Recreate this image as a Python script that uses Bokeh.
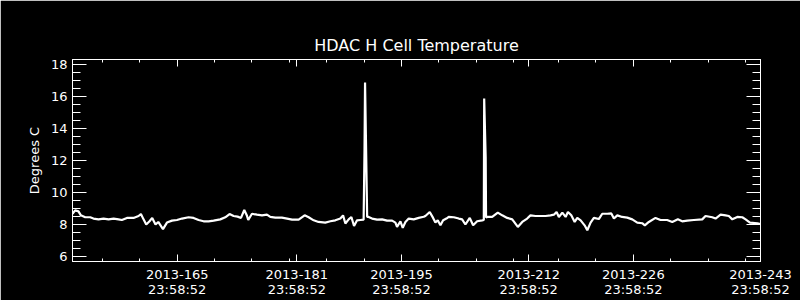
from bokeh.plotting import figure
from bokeh.models import Range1d, LinearAxis, FixedTicker
from bokeh.embed import file_html
from bokeh.resources import INLINE

# x = day of year 2013 (integer N = day N at 23:58:52)
days = [151.0, 151.36, 151.8, 152.12, 152.7, 153.37, 153.8, 154.48, 155.15, 155.82,
        156.5, 157.15, 157.6, 158.28, 159.16, 159.83, 160.15, 160.5, 160.86, 161.3,
        161.66, 162.1, 162.47, 163.1, 163.63, 164.3, 164.97, 165.64, 166.52, 167.19,
        167.86, 168.53, 169.2, 169.87, 170.76, 171.43, 172.0, 172.54, 173.08, 173.53,
        173.97, 174.3, 174.5, 175.0, 175.67, 176.34, 177.0, 177.45, 178.12, 179.0,
        179.7, 180.36, 181.24, 182.04, 182.58, 183.25, 183.9, 184.8, 185.48, 186.15,
        186.82, 187.18, 187.49, 187.93, 188.29, 188.65, 189.05, 189.49, 189.93, 190.05,
        190.12, 190.4, 190.6, 191.06, 191.73, 192.4, 193.07, 193.74, 194.18, 194.4,
        194.85, 195.16, 195.52, 195.96, 196.63, 197.3, 197.97, 198.19, 198.77, 199.22,
        199.53, 199.84, 200.2, 200.56, 201.0, 201.31, 201.98, 202.65, 203.1, 203.54,
        204.12, 204.57, 205.11, 205.78, 206.0, 206.05, 206.25, 206.3, 206.45, 207.12,
        207.87, 208.46, 209.13, 209.8, 210.55, 211.14, 211.8, 212.24, 212.91, 213.58,
        214.25, 214.92, 215.37, 215.73, 216.04, 216.5, 216.94, 217.25, 217.7, 218.15,
        218.5, 218.95, 219.48, 219.84, 220.28, 220.72, 221.38, 221.84, 222.5, 223.05,
        223.4, 223.85, 224.5, 225.18, 225.85, 226.52, 227.18, 227.53, 228.07, 228.96,
        229.63, 230.52, 231.2, 231.95, 232.53, 233.2, 234.09, 235.21, 235.65, 236.55,
        236.99, 237.66, 238.33, 238.77, 239.23, 239.9, 240.57, 241.01, 241.59, 242.58,
        243.0]
temps = [8.69, 8.90, 8.84, 8.59, 8.47, 8.47, 8.39, 8.34, 8.39, 8.34,
         8.39, 8.34, 8.30, 8.43, 8.43, 8.55, 8.67, 8.34, 8.02, 8.22,
         8.43, 8.02, 8.18, 7.73, 8.14, 8.26, 8.30, 8.39, 8.47, 8.43,
         8.30, 8.22, 8.22, 8.26, 8.34, 8.47, 8.67, 8.55, 8.51, 8.43,
         8.92, 8.60, 8.30, 8.69, 8.63, 8.59, 8.63, 8.49, 8.45, 8.45,
         8.39, 8.32, 8.32, 8.59, 8.47, 8.28, 8.18, 8.14, 8.22, 8.28,
         8.39, 8.59, 8.08, 8.34, 8.49, 7.93, 8.28, 8.30, 8.32, 12.70,
         16.85, 8.50, 8.49, 8.39, 8.32, 8.34, 8.26, 8.26, 8.14, 7.87,
         8.22, 7.81, 8.18, 8.39, 8.34, 8.43, 8.50, 8.55, 8.80, 8.43,
         8.14, 8.28, 7.97, 8.28, 8.39, 8.49, 8.47, 8.39, 8.34, 8.02,
         8.43, 7.97, 8.22, 8.28, 8.30, 15.85, 12.20, 8.45, 8.49, 8.49,
         8.76, 8.59, 8.43, 8.34, 7.87, 8.18, 8.39, 8.59, 8.55, 8.55,
         8.55, 8.59, 8.63, 8.80, 8.49, 8.76, 8.49, 8.80, 8.59, 8.18,
         8.43, 8.28, 7.97, 7.66, 8.14, 8.43, 8.36, 8.69, 8.69, 8.71,
         8.39, 8.59, 8.49, 8.45, 8.34, 8.14, 8.10, 7.97, 8.18, 8.43,
         8.30, 8.30, 8.18, 8.34, 8.22, 8.26, 8.30, 8.34, 8.55, 8.47,
         8.39, 8.63, 8.59, 8.55, 8.34, 8.49, 8.47, 8.34, 8.14, 8.10,
         8.05]

label_days = [165, 181, 195, 212, 226, 243]
label_year = "2013"
label_time = "23:58:52"
minor_days = [155, 160, 165, 170, 175, 180, 185, 190, 195, 200, 205, 210,
              216, 221, 226, 231, 236, 241]
y_ticks = [6, 8, 10, 12, 14, 16, 18]
y_minor = [6.5, 7, 7.5, 8.5, 9, 9.5, 10.5, 11, 11.5, 12.5, 13, 13.5,
           14.5, 15, 15.5, 16.5, 17, 17.5]

FONT = "DejaVu Sans"

p = figure(width=800, height=300, output_backend="svg", toolbar_location=None,
           x_range=Range1d(151, 243), y_range=Range1d(5.72, 18.28),
           background_fill_color="black", border_fill_color="black",
           outline_line_color="white", outline_line_width=1,
           min_border_left=72, min_border_right=40,
           min_border_top=59, min_border_bottom=37,
           title="HDAC H Cell Temperature")
p.grid.visible = False

p.title.align = "center"
p.title.text_color = "white"
p.title.text_font = FONT
p.title.text_font_size = "16px"
p.title.text_font_style = "normal"

xt = FixedTicker(ticks=label_days, minor_ticks=minor_days)
yt = FixedTicker(ticks=y_ticks, minor_ticks=y_minor)


def style(ax, major_len, minor_len):
    ax.axis_line_color = "white"
    ax.major_tick_line_color = "white"
    ax.minor_tick_line_color = "white"
    ax.major_tick_in = major_len
    ax.major_tick_out = 0
    ax.minor_tick_in = minor_len
    ax.minor_tick_out = 0
    ax.major_label_text_color = "white"
    ax.major_label_text_font = FONT
    ax.major_label_text_font_size = "13px"


xa = p.xaxis[0]
xa.ticker = xt
style(xa, 7, 3)
xa.major_label_standoff = 5
xa.major_label_text_line_height = 1.05
xa.major_label_overrides = {d: f"{label_year}-{d}\n{label_time}" for d in label_days}

ya = p.yaxis[0]
ya.ticker = yt
style(ya, 14, 8)
ya.major_label_standoff = 5
ya.axis_label = "Degrees C"
ya.axis_label_text_color = "white"
ya.axis_label_text_font = FONT
ya.axis_label_text_font_size = "13px"
ya.axis_label_text_font_style = "normal"
ya.axis_label_standoff = 6


def tick_only_axis(positions, length, side):
    # an axis that carries no labels: its marks are drawn as (label-free) minor ticks
    ax = LinearAxis(ticker=FixedTicker(ticks=[], minor_ticks=positions))
    style(ax, 0, length)
    ax.major_label_standoff = 0
    p.add_layout(ax, side)
    return ax


tick_only_axis(minor_days, 3, "above")
tick_only_axis(label_days, 7, "above")
tick_only_axis(y_minor, 8, "right")
tick_only_axis(y_ticks, 14, "right")

p.line(days, temps, line_color="white", line_width=2.2)

open("out.html", "w").write(file_html(p, INLINE))
